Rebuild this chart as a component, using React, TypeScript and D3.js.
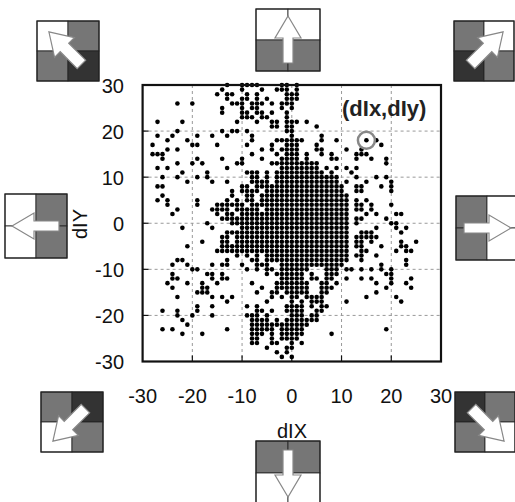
import React from 'react';
import * as d3 from 'd3';

const ticks = [-30, -20, -10, 0, 10, 20, 30];

// dIY value of each row of dots, and the dIX values seen in that row
const rowDy = [
  30, 29, 28, 27, 26, 25, 24, 23, 22, 21, 20, 19, 18, 17, 16, 15, 14, 13, 12, 11,
  10, 9, 8, 7, 6, 5, 4, 3, 2, 1, 0, -1, -2, -3, -4, -5, -6, -7, -8, -9,
  -10, -11, -12, -13, -14, -15, -16, -17, -18, -19, -20, -21, -22, -23, -24, -25, -26, -27, -28, -29,
];

const rowDx = [
  [-13, -10, -9, -8, -7, -2, -1, 1],
  [-14, -10, -6, -3, -2, -1, 1],
  [-15, -13, -12, -9, -7, -1, 0, 1],
  [-13, -10, -9, -7, -5, -1, 0, 1],
  [-23, -20, -12, -11, -10, -8, -7, -6, -4, -2, -1, 0],
  [-14, -10, -8, -7, -2, 0],
  [-14, -10, -9, -7, -6, -4, -1],
  [-10, -9, -8, -6, -5, -1],
  [-27, -22, -11, -7, -4, -3, -1, 0, 1, 3],
  [-4, -3, -1, 0, 5],
  [-23, -14, -12, -11, -9, -1, 0],
  [-27, -24, -19, -16, -13, -8, 0, 6],
  [-25, -21, -8, -3, -2, -1, 0, 1, 2, 6, 9, 15, 17],
  [-28, -20, -19, -15, -9, -4, -1, 0, 1, 5, 18],
  [-25, -23, -6, -4, -2, -1, 0, 1, 5, 6, 11, 14],
  [-28, -27, -26, -8, -3, -1, 0, 1, 3, 6, 8, 13, 14, 15],
  [-26, -19, -14, -10, -6, -2, -1, 0, 1, 3, 8, 9, 13, 16, 19],
  [-23, -20, -18, -11, -10, -4, -3, -2, -1, 0, 1, 2, 3, 4, 5, 19],
  [-27, -25, -13, -2, -1, 0, 1, 2, 3, 4, 5, 7, 9, 11, 13],
  [-22, -17, -9, -8, -7, -5, -3, -2, -1, 0, 1, 2, 3, 4, 5, 6, 8, 12],
  [-26, -23, -19, -17, -8, -7, -5, -3, -2, -1, 0, 1, 2, 3, 4, 5, 6, 7, 8, 9, 13, 17, 19],
  [-21, -16, -13, -8, -7, -6, -5, -3, -2, -1, 0, 1, 2, 3, 4, 5, 6, 7, 8, 9, 11, 15, 20],
  [-27, -26, -10, -9, -7, -6, -5, -4, -3, -2, -1, 0, 1, 2, 3, 4, 5, 6, 7, 8, 9, 10, 13, 14, 18, 20],
  [-12, -10, -9, -8, -7, -5, -4, -3, -2, -1, 0, 1, 2, 3, 4, 5, 6, 7, 8, 9, 10, 13, 14, 20],
  [-26, -12, -9, -8, -6, -5, -4, -3, -2, -1, 0, 1, 2, 3, 4, 5, 6, 7, 8, 9, 10, 11],
  [-27, -25, -19, -13, -11, -9, -8, -6, -5, -4, -3, -2, -1, 0, 1, 2, 3, 4, 5, 6, 7, 8, 9, 10, 11, 13, 15],
  [-25, -19, -15, -14, -13, -12, -11, -10, -8, -7, -6, -5, -4, -3, -2, -1, 0, 1, 2, 3, 4, 5, 6, 7, 8, 9, 10, 11, 13, 14, 16, 20],
  [-23, -16, -15, -14, -13, -11, -10, -9, -8, -7, -5, -4, -3, -2, -1, 0, 1, 2, 3, 4, 5, 6, 7, 8, 9, 10, 11, 13, 14, 16],
  [-24, -15, -13, -12, -10, -9, -8, -7, -6, -5, -4, -3, -2, -1, 0, 1, 2, 3, 4, 5, 6, 7, 8, 9, 10, 11, 15, 17, 21, 22],
  [-14, -13, -12, -11, -10, -9, -8, -7, -6, -5, -4, -3, -2, -1, 0, 1, 2, 3, 4, 5, 6, 7, 8, 9, 10, 11, 13, 14, 19],
  [-17, -12, -11, -10, -9, -8, -7, -6, -5, -4, -3, -2, -1, 0, 1, 2, 3, 4, 5, 6, 7, 8, 9, 10, 11, 13, 20, 21],
  [-22, -16, -10, -9, -8, -7, -6, -5, -4, -3, -2, -1, 0, 1, 2, 3, 4, 5, 6, 7, 8, 9, 10, 11, 17, 21, 23],
  [-13, -12, -11, -10, -9, -8, -7, -6, -5, -4, -3, -2, -1, 0, 1, 2, 3, 4, 5, 6, 7, 8, 9, 10, 11, 14, 15, 16, 22],
  [-14, -13, -11, -10, -9, -8, -7, -6, -5, -4, -3, -2, -1, 0, 1, 2, 3, 4, 5, 6, 7, 8, 9, 10, 11, 13, 14, 15, 16, 17],
  [-18, -14, -13, -11, -10, -9, -8, -7, -6, -5, -4, -3, -2, -1, 0, 1, 2, 3, 4, 5, 6, 7, 8, 9, 10, 11, 13, 14, 16, 22, 25],
  [-21, -14, -13, -12, -11, -10, -9, -8, -7, -6, -5, -4, -3, -2, -1, 0, 1, 2, 3, 4, 5, 6, 7, 8, 9, 10, 11, 13, 14, 18, 22, 23],
  [-15, -14, -13, -12, -11, -10, -9, -8, -7, -6, -5, -4, -3, -2, -1, 0, 1, 2, 3, 4, 5, 6, 7, 8, 9, 10, 11, 14, 15, 21, 23, 24],
  [-11, -9, -7, -5, -4, -3, -2, -1, 0, 1, 2, 3, 4, 5, 6, 7, 8, 9, 10, 11, 13, 14, 17],
  [-23, -22, -13, -8, -7, -5, -4, -3, -2, -1, 0, 1, 2, 3, 4, 5, 6, 7, 8, 9, 10, 11, 14, 23],
  [-24, -21, -16, -14, -13, -10, -7, -6, -5, -2, -1, 0, 1, 2, 3, 4, 5, 6, 7, 8, 9, 10, 18, 23],
  [-20, -19, -9, -7, -5, -4, -2, -1, 0, 1, 2, 3, 7, 8, 9, 11, 12, 14, 16, 18, 20],
  [-24, -17, -16, -14, -5, -3, -2, -1, 0, 1, 2, 4, 7, 8, 9, 19, 20],
  [-24, -23, -16, -14, -13, -2, -1, 0, 1, 2, 4, 5, 7, 8, 11, 14, 16, 20, 24],
  [-25, -21, -18, -15, -8, -3, -2, -1, 0, 1, 2, 3, 6, 7, 9, 17, 20, 23],
  [-24, -18, -17, -6, -3, -2, -1, 0, 1, 2, 3, 6, 7, 8, 19, 24],
  [-19, -18, -17, -7, -4, -3, -1, 0, 1, 2, 3, 6, 7, 17],
  [-23, -16, -14, -12, -4, -2, 0, 1, 3, 4, 5, 6, 15, 21],
  [-13, -5, 0, 2, 4, 5, 6, 11, 22],
  [-19, -16, -9, -7, -1, 0, 1, 2, 4, 6, 7],
  [-26, -23, -19, -7, -6, -4, -1, 0, 1, 2, 5, 6],
  [-23, -20, -16, -9, -8, -7, -5, 0, 1, 2, 4, 5],
  [-22, -8, -7, -6, -5, -3, -1, 0, 1, 2, 3, 4, 5],
  [-21, -8, -7, -6, -5, -4, -3, -2, -1, 0, 1, 2, 3],
  [-26, -24, -13, -8, -7, -6, -5, -4, -2, -1, 0, 1, 2, 19],
  [-22, -18, -8, -7, -6, -4, -2, -1, 0, 1, 2, 8],
  [-8, -7, -4, -2, -1, 0, 1],
  [-8, -7, -4, -3, 0, 2],
  [-5, -1, 0],
  [-3, -1],
  [-2, 0],
];

const highlight = { dx: 15, dy: 18, label: '(dIx,dIy)' };

const white = '#ffffff';
const gray = '#767676';
const dark = '#333333';

// the eight direction tiles: corner, quadrant fills (TL, TR, BL, BR), arrow angle (0 = up)
const arrowTiles = [
  { x: 37, y: 21, w: 62, h: 60, fills: [white, gray, gray, dark], angle: -45 },
  { x: 256, y: 9, w: 64, h: 62, fills: [white, white, gray, gray], angle: 0 },
  { x: 454, y: 21, w: 60, h: 60, fills: [gray, white, dark, gray], angle: 45 },
  { x: 5, y: 194, w: 62, h: 64, fills: [white, gray, white, gray], angle: -90 },
  { x: 456, y: 196, w: 62, h: 64, fills: [gray, white, gray, white], angle: 90 },
  { x: 41, y: 392, w: 62, h: 60, fills: [gray, dark, white, gray], angle: -135 },
  { x: 256, y: 441, w: 64, h: 64, fills: [gray, gray, white, white], angle: 180 },
  { x: 455, y: 392, w: 60, h: 60, fills: [dark, gray, gray, white], angle: 135 },
];

const straightArrow = 'M0,-24L13,-2L5,-2L5,23L-5,23L-5,-2L-13,-2Z';
const diagonalArrow = 'M0,-27L14,-5L6,-5L6,19L-6,19L-6,-5L-14,-5Z';

function ArrowTile({ t }: { t: (typeof arrowTiles)[number] }) {
  const cx = t.x + t.w / 2;
  const cy = t.y + t.h / 2;
  const quads = [
    [t.x, t.y],
    [cx, t.y],
    [t.x, cy],
    [cx, cy],
  ];
  return (
    <g>
      {quads.map((q, i) => (
        <rect key={i} x={q[0]} y={q[1]} width={t.w / 2} height={t.h / 2} fill={t.fills[i]} stroke="#222" strokeWidth={0.8} />
      ))}
      <rect x={t.x} y={t.y} width={t.w} height={t.h} fill="none" stroke="#222" strokeWidth={1.2} />
      <path
        d={t.angle % 90 === 0 ? straightArrow : diagonalArrow}
        transform={`translate(${cx},${cy}) rotate(${t.angle})`}
        fill="#fff"
        stroke="#888"
        strokeWidth={1.2}
      />
    </g>
  );
}

export default function App() {
  const x = d3.scaleLinear().domain([-30, 30]).range([142.6, 441]);
  const y = d3.scaleLinear().domain([-30, 30]).range([361.5, 85]);
  const font = '"Liberation Sans", Arial, sans-serif';

  const dots = rowDx.flatMap((xs, i) => xs.map(dx => ({ dx, dy: rowDy[i] })));

  return (
    <svg width={515} height={502} style={{ position: 'absolute', left: 0, top: 0 }} fontFamily={font}>
      {/* grid */}
      {ticks.slice(1, -1).map(t => (
        <g key={t} stroke="#999" strokeWidth={1} strokeDasharray="3,3">
          <line x1={x(t)} x2={x(t)} y1={y(30)} y2={y(-30)} />
          <line x1={x(-30)} x2={x(30)} y1={y(t)} y2={y(t)} />
        </g>
      ))}
      {/* tick marks */}
      {ticks.slice(1, -1).map(t => (
        <g key={t} stroke="#111" strokeWidth={1.2}>
          <line x1={x(t)} x2={x(t)} y1={y(-30)} y2={y(-30) - 6} />
          <line x1={x(-30)} x2={x(-30) + 6} y1={y(t)} y2={y(t)} />
        </g>
      ))}
      {dots.map((d, i) => (
        <circle key={i} cx={x(d.dx)} cy={y(d.dy)} r={2.3} fill="#000" />
      ))}
      <rect x={x(-30)} y={y(30)} width={x(30) - x(-30)} height={y(-30) - y(30)} fill="none" stroke="#111" strokeWidth={2.2} />

      <circle cx={x(highlight.dx)} cy={y(highlight.dy)} r={8.5} fill="none" stroke="#888" strokeWidth={2.5} />
      <text x={342} y={116} fontSize={22} fontWeight="bold" fill="#222">{highlight.label}</text>

      {arrowTiles.map((t, i) => (
        <ArrowTile key={i} t={t} />
      ))}

      {/* tick labels */}
      {ticks.map(t => (
        <text key={t} x={124} y={y(t) + 7.5} fontSize={20} textAnchor="end" fill="#111">{t}</text>
      ))}
      {ticks.map(t => (
        <text key={t} x={x(t)} y={403} fontSize={20} textAnchor="middle" fill="#111">{t}</text>
      ))}
      <text x={292} y={438} fontSize={20} textAnchor="middle" fill="#111">dIX</text>
      <text transform={`translate(87,224) rotate(-90)`} fontSize={20} textAnchor="middle" fill="#111">dIY</text>
    </svg>
  );
}
